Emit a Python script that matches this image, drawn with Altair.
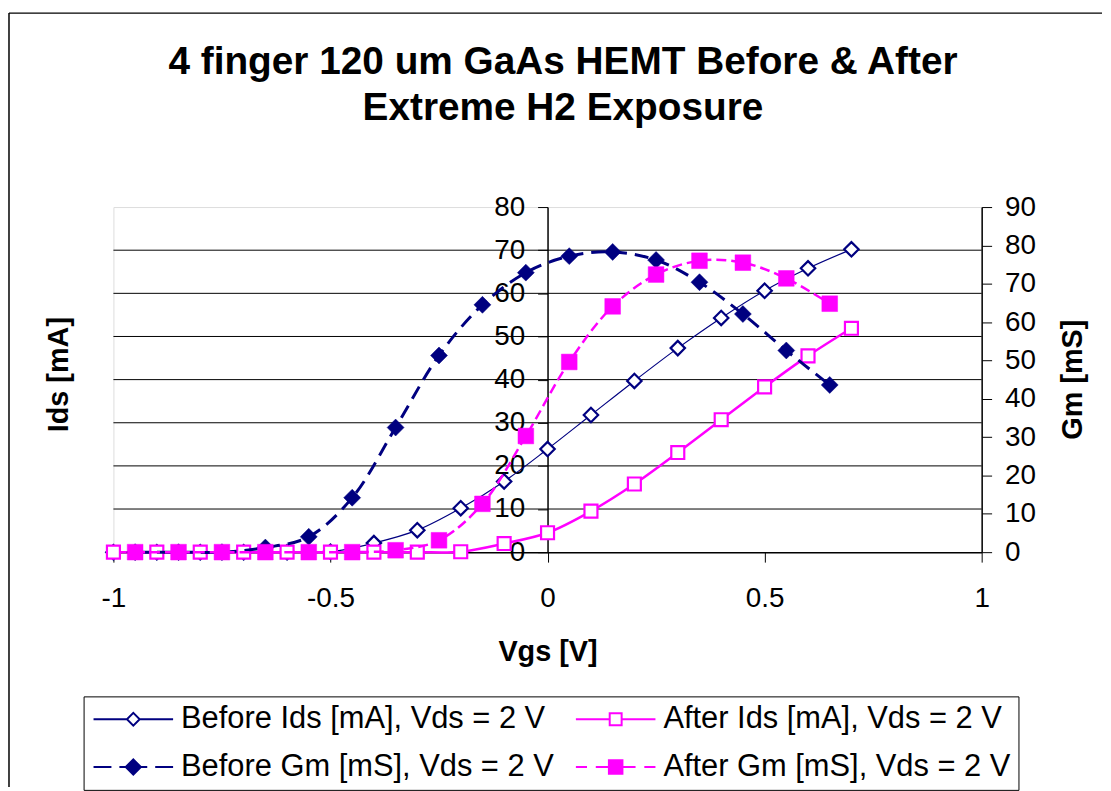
import altair as alt
import pandas as pd

# ---------------- data ----------------
vgs_ids = [-1.0, -0.9, -0.8, -0.7, -0.6, -0.5, -0.4, -0.3, -0.2, -0.1,
           0.0, 0.1, 0.2, 0.3, 0.4, 0.5, 0.6, 0.7]
before_ids = [0, 0, 0, 0, 0, 0.1, 2.1, 5.1, 10.2, 16.4,
              23.9, 31.8, 39.7, 47.3, 54.3, 60.6, 65.8, 70.2]
after_ids = [0, 0, 0, 0, 0, 0, 0, 0, 0.1, 2.0,
             4.5, 9.5, 15.8, 23.1, 30.7, 38.3, 45.5, 51.9]

vgs_gm = [-0.95, -0.85, -0.75, -0.65, -0.55, -0.45, -0.35, -0.25, -0.15,
          -0.05, 0.05, 0.15, 0.25, 0.35, 0.45, 0.55, 0.65]
before_gm = [0, 0, 0, 1.2, 4.0, 14.2, 32.5, 51.3, 64.5,
             72.9, 77.2, 78.3, 76.2, 70.4, 62.1, 52.6, 43.6]
after_gm = [0, 0, 0, 0, 0, 0, 0.5, 3.1, 12.6,
            30.3, 49.6, 64.1, 72.4, 76.0, 75.5, 71.4, 64.8]

series_names = ["Before Ids [mA], Vds = 2 V", "After Ids [mA], Vds = 2 V",
                "Before Gm [mS], Vds = 2 V", "After Gm [mS], Vds = 2 V"]
grid_values = [10, 20, 30, 40, 50, 60, 70]
x_ticks = [-1, -0.5, 0, 0.5, 1]
ids_ticks = [0, 10, 20, 30, 40, 50, 60, 70, 80]
gm_ticks = [0, 10, 20, 30, 40, 50, 60, 70, 80, 90]

title_lines = ["4 finger 120 um GaAs HEMT Before & After", "Extreme H2 Exposure"]

# ---------------- styles ----------------
NAVY = "#000080"
MAGENTA = "#FF00FF"
FONT = "Liberation Sans"
W, H = 873, 347


def diamond(r):
    return f"M0,-{r}L{r},0L0,{r}L-{r},0Z"


def square(r):
    return f"M-{r},-{r}H{r}V{r}H-{r}Z"


legend_paths = [
    "M-1,0H-0.16M0.16,0H1" + diamond(0.16),
    "M-1,0H-0.15M0.15,0H1" + square(0.15),
    "M-1,0H-0.55M-0.35,0H0.35M0.55,0H1" + "".join(diamond(r) for r in [0.19, 0.145, 0.1, 0.055, 0.012]),
    "M-1,0H-0.72M-0.5,0H0.5M0.72,0H1" + "".join(square(r) for r in [0.17, 0.125, 0.08, 0.035]),
]
legend_stroke = [NAVY, MAGENTA, NAVY, MAGENTA]

ids_df = pd.DataFrame({
    "vgs": vgs_ids + vgs_ids,
    "val": before_ids + after_ids,
    "series": [series_names[0]] * len(vgs_ids) + [series_names[1]] * len(vgs_ids),
})
gm_df = pd.DataFrame({
    "vgs": vgs_gm + vgs_gm,
    "val": before_gm + after_gm,
    "series": [series_names[2]] * len(vgs_gm) + [series_names[3]] * len(vgs_gm),
})
grid_df = pd.DataFrame({"val": grid_values})
frame_df = pd.DataFrame({"k": [0]})
legend_df = pd.DataFrame({"series": series_names})

x_enc = alt.X(
    "vgs:Q",
    scale=alt.Scale(domain=[-1, 1], nice=False, zero=False),
    axis=alt.Axis(
        values=x_ticks, labelExpr="'' + datum.value", grid=False,
        title="Vgs [V]", titleFont=FONT, titleFontSize=29, titleFontWeight="bold",
        titleColor="black", titleY=100, titleBaseline="middle",
        labelFont=FONT, labelFontSize=28, labelColor="black", labelPadding=23,
        labelFlush=False, labelOverlap=False,
        tickSize=10, tickColor="black", tickWidth=1,
        domainColor="black", domainWidth=1.5,
    ),
)

ids_y = alt.Y(
    "val:Q",
    scale=alt.Scale(domain=[0, 80], nice=False),
    axis=alt.Axis(
        orient="left", offset=-W / 2, values=ids_ticks, grid=False,
        title="Ids [mA]", titleFont=FONT, titleFontSize=29, titleFontWeight="bold",
        titleColor="black", titleX=-492, titleY=168, titleAngle=270,
        titleBaseline="middle", titleAlign="center",
        labelFont=FONT, labelFontSize=28, labelColor="black", labelPadding=13,
        labelFlush=False, labelOverlap=False,
        tickSize=10, tickColor="black", tickWidth=1,
        domainColor="black", domainWidth=1.5,
    ),
)

gm_y = alt.Y(
    "val:Q",
    scale=alt.Scale(domain=[0, 90], nice=False),
    axis=alt.Axis(
        orient="right", values=gm_ticks, grid=False,
        title="Gm [mS]", titleFont=FONT, titleFontSize=29, titleFontWeight="bold",
        titleColor="black", titleX=91, titleY=173, titleAngle=270,
        titleBaseline="middle", titleAlign="center",
        labelFont=FONT, labelFontSize=28, labelColor="black", labelPadding=13,
        labelFlush=False, labelOverlap=False,
        tickSize=10, tickColor="black", tickWidth=1,
        domainColor="black", domainWidth=1.5,
    ),
)


def series_layers(df, name, y_enc, color, width, dash, shape, fill, size, pstroke):
    base = alt.Chart(df).transform_filter(alt.datum.series == name)
    line_kw = dict(color=color, strokeWidth=width, interpolate="catmull-rom")
    if dash:
        line_kw["strokeDash"] = dash
    line = base.mark_line(**line_kw).encode(x=x_enc, y=y_enc)
    pts = base.mark_point(shape=shape, filled=True, fill=fill, stroke=color,
                          strokeWidth=pstroke, size=size, opacity=1).encode(x=x_enc, y=y_enc)
    return [line, pts]


grid = alt.Chart(grid_df).mark_rule(color="black", strokeWidth=1).encode(y=ids_y)

legend_spec = alt.Legend(
    title=None, orient="none", legendX=-30, legendY=492, direction="horizontal",
    columns=2, labelFont=FONT, labelFontSize=31, labelColor="black",
    labelLimit=900, symbolSize=6400, symbolStrokeWidth=2,
    labelExpr="indexof(datum.label, 'After') == 0 ? datum.label + '\u00a0\u00a0\u00a0\u00a0' : datum.label",
    clipHeight=30, rowPadding=17, columnPadding=20, padding=8,
    strokeColor="black", fillColor="white",
    symbolOffset=1, labelOffset=7,
)

legend_dummy = alt.Chart(legend_df).mark_point(
    opacity=0, filled=False
).encode(
    shape=alt.Shape("series:N", scale=alt.Scale(domain=series_names, range=legend_paths),
                    sort=series_names, legend=legend_spec),
    stroke=alt.Stroke("series:N", scale=alt.Scale(domain=series_names, range=legend_stroke),
                      sort=series_names, legend=legend_spec),
    x=alt.value(0),
    y=alt.value(0),
)

frame_left = alt.Chart(frame_df).mark_rule(color="black", strokeWidth=1.5).encode(
    x=alt.value(-105), y=alt.value(-195), y2=alt.value(583))
frame_top = alt.Chart(frame_df).mark_rule(color="black", strokeWidth=1.5).encode(
    x=alt.value(-105), x2=alt.value(994), y=alt.value(-195))

ids_layer = alt.layer(
    frame_left, frame_top, grid,
    *series_layers(ids_df, series_names[0], ids_y, NAVY, 1.2, None, "diamond", "white", 210, 2.2),
    *series_layers(ids_df, series_names[1], ids_y, MAGENTA, 2.5, None, "square", "white", 170, 2.2),
)
gm_layer = alt.layer(
    *series_layers(gm_df, series_names[2], gm_y, NAVY, 3, [14, 8], "diamond", NAVY, 290, 0.5),
    *series_layers(gm_df, series_names[3], gm_y, MAGENTA, 2.5, [10, 5], "square", MAGENTA, 250, 0.5),
)

chart = alt.layer(ids_layer, gm_layer, legend_dummy).resolve_scale(
    y="independent"
).properties(
    width=W, height=H,
    padding={"left": 0, "top": 2, "right": 0, "bottom": 0},
    title=alt.TitleParams(
        text=title_lines, font=FONT, fontSize=39, fontWeight="bold", color="black",
        anchor="middle", frame="group", lineHeight=46, offset=0, dx=15.5, dy=116,
    ),
).configure_view(
    stroke="#8c8c8c", strokeWidth=2.5
).configure(background="white")

chart.save("out.html", embed_options={"renderer": "svg", "actions": False})
